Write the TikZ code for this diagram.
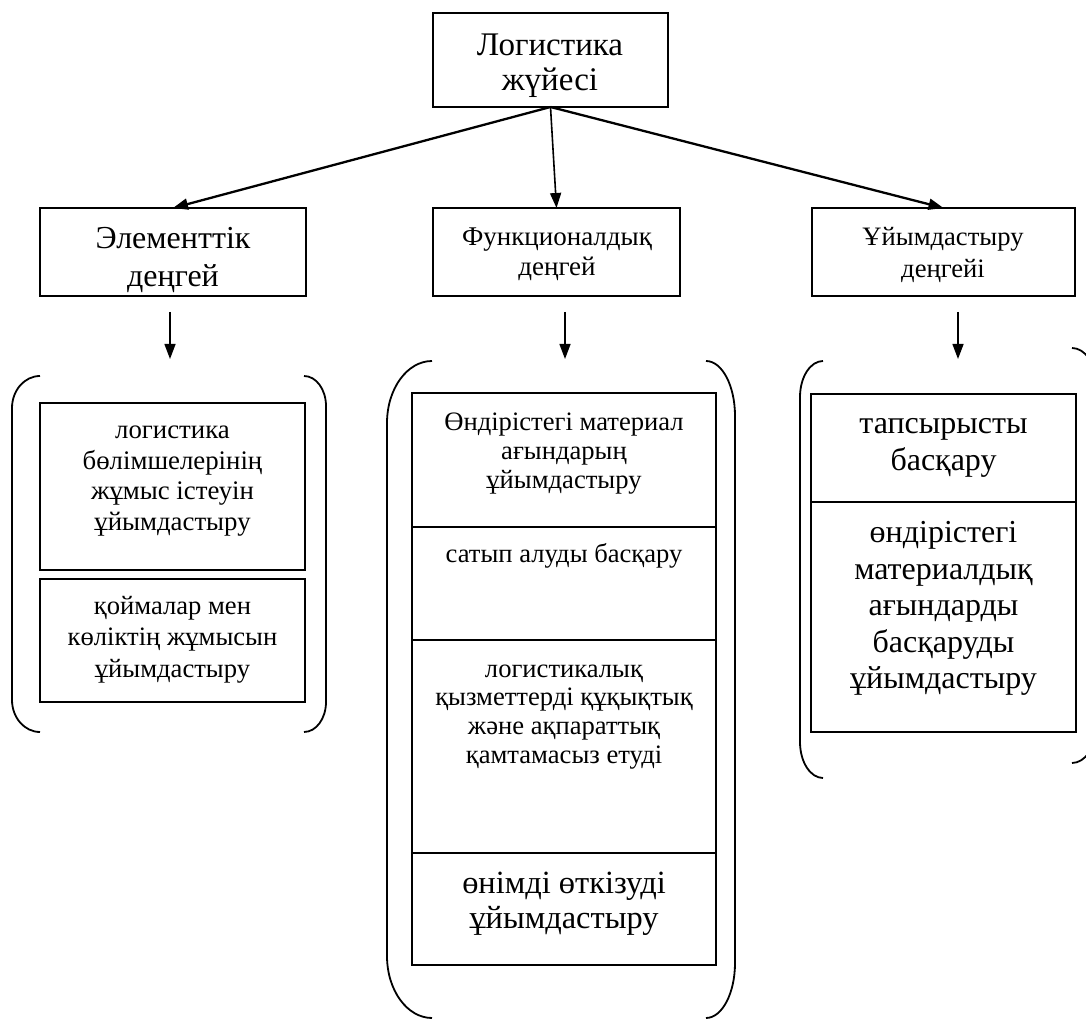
\documentclass[tikz,border=0pt]{standalone}
\usepackage{fontspec}
\setmainfont{Liberation Serif}
\usetikzlibrary{positioning,arrows.meta}

\begin{document}
\begin{tikzpicture}[x=0.5pt,y=-0.5pt,
  box/.style={draw,line width=0.75pt,inner sep=0pt,outer sep=0pt},
  txt/.style={align=center,inner sep=0pt,anchor=north},
  arr/.style={-{Triangle[length=7.5pt,width=5.5pt]},line width=1.15pt},
  sarr/.style={-{Triangle[length=7.5pt,width=5.5pt]},line width=0.7pt},
  brk/.style={line width=0.9pt}]
\useasboundingbox (0,0) rectangle (1086,1020);
\node[box,anchor=north west,minimum width=117.5pt,minimum height=47pt](sys)at(433,13){};
\node[box,anchor=north west,minimum width=133pt,minimum height=44pt](elem)at(40,208){};
\node[box,anchor=north west,minimum width=123.5pt,minimum height=44pt](func)at(433,208){};
\node[box,anchor=north west,minimum width=131.5pt,minimum height=44pt](org)at(812,208){};
\node[txt,font=\fontsize{16.5}{17.5}\selectfont](syst)at(550,30.5){\strut Логистика\\жүйесі};
\node[txt,font=\fontsize{16}{19}\selectfont](elemt)at(173,221.4){\strut Элементтік\\деңгей};
\node[txt,font=\fontsize{13.5}{15}\selectfont](funct)at(557,224){\strut Функционалдық\\деңгей};
\node[txt,font=\fontsize{13.3}{16}\selectfont](orgt)at(943,222.6){\strut Ұйымдастыру\\деңгейі};
\draw[arr](sys.south)--(elem.north);
\draw[sarr,line width=0.8pt](sys.south)--(func.north);
\draw[arr](sys.south)--(org.north);
\coordinate(a1)at(170,312);\coordinate(b1)at(170,359);
\coordinate(a2)at(565,312);\coordinate(b2)at(565,359);
\coordinate(a3)at(958,312);\coordinate(b3)at(958,359);
\draw[sarr](a1)--(b1);\draw[sarr](a2)--(b2);\draw[sarr](a3)--(b3);
\node[box,anchor=north west,minimum width=132.5pt,minimum height=83.5pt](el1)at(40,403){};
\node[box,below=4.5pt of el1,minimum width=132.5pt,minimum height=61.5pt](el2){};
\node[txt,font=\fontsize{13.4}{15.3}\selectfont](el1t)at(172.5,416.6){\strut логистика\\бөлімшелерінің\\жұмыс істеуін\\ұйымдастыру};
\node[txt,font=\fontsize{13.3}{15.7}\selectfont](el2t)at(172.5,592){\strut қоймалар мен\\көліктің жұмысын\\ұйымдастыру};
\draw[brk](40,376)arc[start angle=270,end angle=180,x radius=28,y radius=32]--(12,700)
  arc[start angle=180,end angle=90,x radius=28,y radius=32];
\draw[brk](304,376)arc[start angle=270,end angle=360,x radius=22,y radius=30]--(326,702)
  arc[start angle=0,end angle=90,x radius=22,y radius=30];
\node[box,anchor=north west,minimum width=152pt,minimum height=67pt](fn1)at(412,393){};
\node[box,below=0pt of fn1,minimum width=152pt,minimum height=56.5pt](fn2){};
\node[box,below=0pt of fn2,minimum width=152pt,minimum height=106.5pt](fn3){};
\node[box,below=0pt of fn3,minimum width=152pt,minimum height=56pt](fn4){};
\node[txt,font=\fontsize{13.3}{14.5}\selectfont](fn1t)at(564,409.7){\strut Өндірістегі материал\\ағындарың\\ұйымдастыру};
\node[txt,font=\fontsize{13.3}{14.5}\selectfont](fn2t)at(564,541.7){\strut сатып алуды басқару};
\node[txt,font=\fontsize{13.3}{14.35}\selectfont](fn3t)at(564,656.7){\strut логистикалық\\қызметтерді құқықтық\\және ақпараттық\\қамтамасыз етуді};
\node[txt,font=\fontsize{16.2}{17.5}\selectfont](fn4t)at(564,868.5){\strut өнімді өткізуді\\ұйымдастыру};
\draw[brk](432,361)arc[start angle=270,end angle=180,x radius=45,y radius=62]--(387,956)
  arc[start angle=180,end angle=90,x radius=45,y radius=62];
\draw[brk](706,361)arc[start angle=270,end angle=360,x radius=29,y radius=55]--(735,963)
  arc[start angle=0,end angle=90,x radius=29,y radius=55];
\node[box,anchor=north west,minimum width=132.5pt,minimum height=54pt](or1)at(811,394){};
\node[box,below=0pt of or1,minimum width=132.5pt,minimum height=115pt](or2){};
\node[txt,font=\fontsize{16}{18.5}\selectfont](or1t)at(943.5,407){\strut тапсырысты\\басқару};
\node[txt,font=\fontsize{16}{18.3}\selectfont](or2t)at(943.5,516.4){\strut өндірістегі\\материалдық\\ағындарды\\басқаруды\\ұйымдастыру};
\draw[brk](823,361)arc[start angle=270,end angle=180,x radius=23,y radius=36]--(800,742)
  arc[start angle=180,end angle=90,x radius=23,y radius=36];
\draw[brk](1072,348)arc[start angle=270,end angle=360,x radius=24,y radius=36]--(1096,727)
  arc[start angle=0,end angle=90,x radius=24,y radius=36];
\end{tikzpicture}
\end{document}
